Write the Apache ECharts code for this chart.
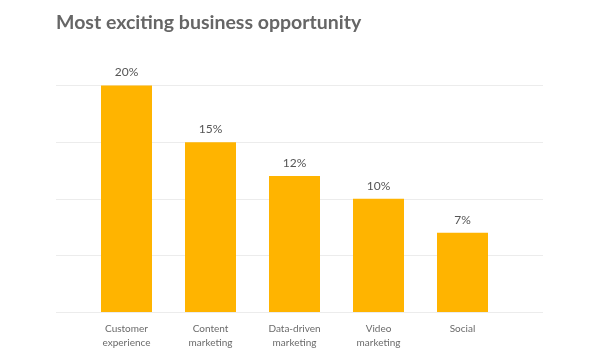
<!DOCTYPE html>
<html>
<head>
<meta charset="utf-8">
<script src="https://cdn.jsdelivr.net/npm/echarts@6/dist/echarts.min.js"></script>
<style>html,body{margin:0;padding:0;background:#fff}#c{width:602px;height:364px}</style>
</head>
<body>
<div id="c"></div>
<script>
var titleText = 'Most exciting business opportunity';
var categories = ['Customer\nexperience', 'Content\nmarketing', 'Data-driven\nmarketing', 'Video\nmarketing', 'Social'];
var values = [20, 15, 12, 10, 7];
var yTicks = [0, 5, 10, 15, 20];

var chart = echarts.init(document.getElementById('c'));
chart.setOption({
  animation: false,
  backgroundColor: '#fff',
  title: {
    text: titleText,
    left: 51, top: 8,
    textStyle: { fontFamily: 'Lato', fontWeight: 'bold', fontSize: 19.5, color: '#666' }
  },
  grid: [
    { left: 56, right: 59, top: 85.5, bottom: 52 },
    { left: 84.5, right: 97.5, top: 85.5, bottom: 52 }
  ],
  xAxis: [
    { gridIndex: 0, type: 'value', show: false, min: 0, max: 1 },
    {
      gridIndex: 1, type: 'category', data: categories,
      axisLine: { show: false }, axisTick: { show: false },
      axisLabel: { color: '#6a6a6a', fontFamily: 'Lato', fontSize: 10, lineHeight: 14, margin: 10, interval: 0 }
    }
  ],
  yAxis: [
    {
      gridIndex: 0, type: 'value', min: yTicks[0], max: yTicks[yTicks.length - 1], interval: 5,
      axisLine: { show: false }, axisTick: { show: false }, axisLabel: { show: false },
      splitLine: { lineStyle: { color: '#ececec', width: 1 } }
    },
    {
      gridIndex: 1, type: 'value', min: yTicks[0], max: yTicks[yTicks.length - 1], interval: 5,
      show: false, splitLine: { show: false }
    }
  ],
  series: [{
    type: 'bar', xAxisIndex: 1, yAxisIndex: 1,
    data: values, barWidth: 51,
    itemStyle: { color: '#FFB400' },
    label: {
      show: true, position: 'top', distance: 7,
      formatter: '{c}%', color: '#555', fontFamily: 'Lato', fontSize: 12
    }
  }]
});
</script>
</body>
</html>
